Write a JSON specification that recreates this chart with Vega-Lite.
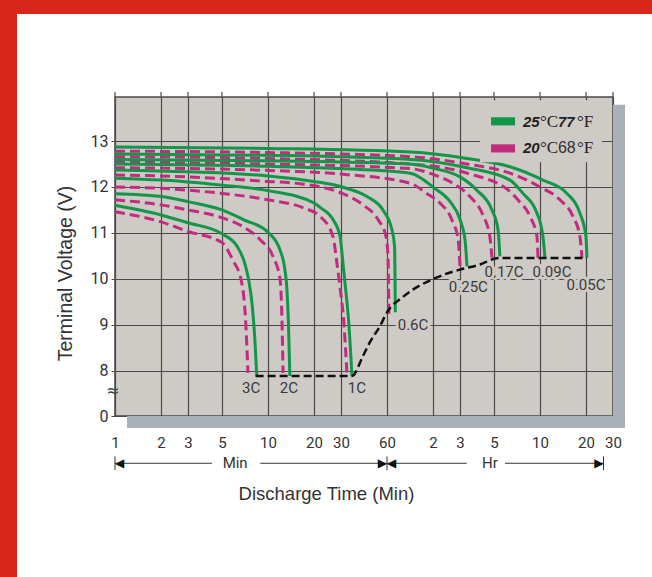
{
  "$schema": "https://vega.github.io/schema/vega-lite/v6.json",
  "background": "#ffffff",
  "padding": 0,
  "columns": 3,
  "spacing": 0,
  "bounds": "flush",
  "config": {"view": {"stroke": null}, "font": "Roboto"},
  "datasets": {
    "curves": [
      {"rate":"3C","temp":"25","t":1,"v":11.6},{"rate":"3C","temp":"25","t":2,"v":11.39},{"rate":"3C","temp":"25","t":3,"v":11.22},{"rate":"3C","temp":"25","t":5,"v":10.98},{"rate":"3C","temp":"25","t":6.3,"v":10.7},{"rate":"3C","temp":"25","t":7.1,"v":10.3},{"rate":"3C","temp":"25","t":7.5,"v":9.95},{"rate":"3C","temp":"25","t":7.9,"v":9.4},{"rate":"3C","temp":"25","t":8.2,"v":8.7},{"rate":"3C","temp":"25","t":8.45,"v":7.88},
      {"rate":"2C","temp":"25","t":1,"v":11.85},{"rate":"2C","temp":"25","t":2,"v":11.79},{"rate":"2C","temp":"25","t":3,"v":11.68},{"rate":"2C","temp":"25","t":5,"v":11.5},{"rate":"2C","temp":"25","t":6.9,"v":11.29},{"rate":"2C","temp":"25","t":10.1,"v":11.0},{"rate":"2C","temp":"25","t":12.0,"v":10.62},{"rate":"2C","temp":"25","t":12.9,"v":10.2},{"rate":"2C","temp":"25","t":13.3,"v":9.77},{"rate":"2C","temp":"25","t":13.6,"v":9.06},{"rate":"2C","temp":"25","t":13.9,"v":7.88},
      {"rate":"1C","temp":"25","t":1,"v":12.19},{"rate":"1C","temp":"25","t":2,"v":12.15},{"rate":"1C","temp":"25","t":3,"v":12.11},{"rate":"1C","temp":"25","t":5,"v":12.04},{"rate":"1C","temp":"25","t":10,"v":11.92},{"rate":"1C","temp":"25","t":20,"v":11.65},{"rate":"1C","temp":"25","t":22,"v":11.55},{"rate":"1C","temp":"25","t":26.6,"v":11.29},{"rate":"1C","temp":"25","t":29.6,"v":10.92},{"rate":"1C","temp":"25","t":30.9,"v":10.35},{"rate":"1C","temp":"25","t":32.2,"v":9.77},{"rate":"1C","temp":"25","t":33.7,"v":9.06},{"rate":"1C","temp":"25","t":35.4,"v":7.88},
      {"rate":"0.6C","temp":"25","t":1,"v":12.37},{"rate":"0.6C","temp":"25","t":3,"v":12.33},{"rate":"0.6C","temp":"25","t":10,"v":12.24},{"rate":"0.6C","temp":"25","t":20,"v":12.12},{"rate":"0.6C","temp":"25","t":30.5,"v":12.0},{"rate":"0.6C","temp":"25","t":44.4,"v":11.79},{"rate":"0.6C","temp":"25","t":56.4,"v":11.5},{"rate":"0.6C","temp":"25","t":64.6,"v":11.07},{"rate":"0.6C","temp":"25","t":67.2,"v":10.7},{"rate":"0.6C","temp":"25","t":67.7,"v":10.0},{"rate":"0.6C","temp":"25","t":68,"v":9.27},
      {"rate":"0.25C","temp":"25","t":1,"v":12.5},{"rate":"0.25C","temp":"25","t":10,"v":12.45},{"rate":"0.25C","temp":"25","t":30,"v":12.4},{"rate":"0.25C","temp":"25","t":85,"v":12.3},{"rate":"0.25C","temp":"25","t":123,"v":11.97},{"rate":"0.25C","temp":"25","t":155,"v":11.68},{"rate":"0.25C","temp":"25","t":180,"v":11.29},{"rate":"0.25C","temp":"25","t":194,"v":10.85},{"rate":"0.25C","temp":"25","t":200,"v":10.27},
      {"rate":"0.17C","temp":"25","t":1,"v":12.6},{"rate":"0.17C","temp":"25","t":10,"v":12.57},{"rate":"0.17C","temp":"25","t":85,"v":12.5},{"rate":"0.17C","temp":"25","t":123,"v":12.4},{"rate":"0.17C","temp":"25","t":180,"v":12.22},{"rate":"0.17C","temp":"25","t":232,"v":11.93},{"rate":"0.17C","temp":"25","t":291,"v":11.5},{"rate":"0.17C","temp":"25","t":319,"v":11.07},{"rate":"0.17C","temp":"25","t":328,"v":10.49},
      {"rate":"0.09C","temp":"25","t":1,"v":12.72},{"rate":"0.09C","temp":"25","t":10,"v":12.69},{"rate":"0.09C","temp":"25","t":85,"v":12.6},{"rate":"0.09C","temp":"25","t":200,"v":12.42},{"rate":"0.09C","temp":"25","t":382,"v":12.15},{"rate":"0.09C","temp":"25","t":464,"v":11.86},{"rate":"0.09C","temp":"25","t":573,"v":11.43},{"rate":"0.09C","temp":"25","t":627,"v":10.92},{"rate":"0.09C","temp":"25","t":646,"v":10.46},
      {"rate":"0.05C","temp":"25","t":1,"v":12.87},{"rate":"0.05C","temp":"25","t":10,"v":12.84},{"rate":"0.05C","temp":"25","t":85,"v":12.76},{"rate":"0.05C","temp":"25","t":200,"v":12.62},{"rate":"0.05C","temp":"25","t":382,"v":12.44},{"rate":"0.05C","temp":"25","t":627,"v":12.15},{"rate":"0.05C","temp":"25","t":900,"v":11.86},{"rate":"0.05C","temp":"25","t":1094,"v":11.43},{"rate":"0.05C","temp":"25","t":1198,"v":10.92},{"rate":"0.05C","temp":"25","t":1216,"v":10.46},
      {"rate":"3C","temp":"20","t":1,"v":11.46},{"rate":"3C","temp":"20","t":2,"v":11.24},{"rate":"3C","temp":"20","t":3,"v":11.03},{"rate":"3C","temp":"20","t":5,"v":10.79},{"rate":"3C","temp":"20","t":5.9,"v":10.4},{"rate":"3C","temp":"20","t":6.7,"v":9.95},{"rate":"3C","temp":"20","t":7.15,"v":9.06},{"rate":"3C","temp":"20","t":7.4,"v":7.95},
      {"rate":"2C","temp":"20","t":1,"v":11.72},{"rate":"2C","temp":"20","t":2,"v":11.61},{"rate":"2C","temp":"20","t":3,"v":11.5},{"rate":"2C","temp":"20","t":5,"v":11.33},{"rate":"2C","temp":"20","t":6.9,"v":11.13},{"rate":"2C","temp":"20","t":8.9,"v":10.85},{"rate":"2C","temp":"20","t":10.8,"v":10.48},{"rate":"2C","temp":"20","t":12.0,"v":9.99},{"rate":"2C","temp":"20","t":12.35,"v":9.06},{"rate":"2C","temp":"20","t":12.55,"v":7.95},
      {"rate":"1C","temp":"20","t":1,"v":12.0},{"rate":"1C","temp":"20","t":2,"v":11.97},{"rate":"1C","temp":"20","t":3,"v":11.93},{"rate":"1C","temp":"20","t":5,"v":11.86},{"rate":"1C","temp":"20","t":10,"v":11.72},{"rate":"1C","temp":"20","t":16.9,"v":11.55},{"rate":"1C","temp":"20","t":21.9,"v":11.36},{"rate":"1C","temp":"20","t":26.6,"v":10.92},{"rate":"1C","temp":"20","t":28.2,"v":10.35},{"rate":"1C","temp":"20","t":29.6,"v":9.8},{"rate":"1C","temp":"20","t":31.3,"v":9.06},{"rate":"1C","temp":"20","t":32.8,"v":7.95},
      {"rate":"0.6C","temp":"20","t":1,"v":12.26},{"rate":"0.6C","temp":"20","t":3,"v":12.22},{"rate":"0.6C","temp":"20","t":10,"v":12.12},{"rate":"0.6C","temp":"20","t":16.2,"v":12.07},{"rate":"0.6C","temp":"20","t":30.5,"v":11.86},{"rate":"0.6C","temp":"20","t":41.8,"v":11.61},{"rate":"0.6C","temp":"20","t":52.4,"v":11.29},{"rate":"0.6C","temp":"20","t":59.1,"v":10.92},{"rate":"0.6C","temp":"20","t":60.9,"v":10.49},{"rate":"0.6C","temp":"20","t":61.4,"v":9.77},{"rate":"0.6C","temp":"20","t":61.8,"v":9.22},
      {"rate":"0.25C","temp":"20","t":1,"v":12.42},{"rate":"0.25C","temp":"20","t":10,"v":12.36},{"rate":"0.25C","temp":"20","t":30,"v":12.28},{"rate":"0.25C","temp":"20","t":85,"v":12.08},{"rate":"0.25C","temp":"20","t":109,"v":11.86},{"rate":"0.25C","temp":"20","t":133,"v":11.65},{"rate":"0.25C","temp":"20","t":159,"v":11.29},{"rate":"0.25C","temp":"20","t":175,"v":10.85},{"rate":"0.25C","temp":"20","t":180,"v":10.27},
      {"rate":"0.17C","temp":"20","t":1,"v":12.54},{"rate":"0.17C","temp":"20","t":10,"v":12.5},{"rate":"0.17C","temp":"20","t":85,"v":12.4},{"rate":"0.17C","temp":"20","t":123,"v":12.26},{"rate":"0.17C","temp":"20","t":162,"v":12.08},{"rate":"0.17C","temp":"20","t":209,"v":11.79},{"rate":"0.17C","temp":"20","t":254,"v":11.39},{"rate":"0.17C","temp":"20","t":282,"v":10.92},{"rate":"0.17C","temp":"20","t":291,"v":10.46},
      {"rate":"0.09C","temp":"20","t":1,"v":12.66},{"rate":"0.09C","temp":"20","t":10,"v":12.62},{"rate":"0.09C","temp":"20","t":85,"v":12.5},{"rate":"0.09C","temp":"20","t":200,"v":12.3},{"rate":"0.09C","temp":"20","t":382,"v":11.9},{"rate":"0.09C","temp":"20","t":430,"v":11.72},{"rate":"0.09C","temp":"20","t":516,"v":11.36},{"rate":"0.09C","temp":"20","t":573,"v":10.92},{"rate":"0.09C","temp":"20","t":582,"v":10.46},
      {"rate":"0.05C","temp":"20","t":1,"v":12.78},{"rate":"0.05C","temp":"20","t":10,"v":12.75},{"rate":"0.05C","temp":"20","t":85,"v":12.66},{"rate":"0.05C","temp":"20","t":200,"v":12.5},{"rate":"0.05C","temp":"20","t":382,"v":12.3},{"rate":"0.05C","temp":"20","t":600,"v":12.0},{"rate":"0.05C","temp":"20","t":810,"v":11.72},{"rate":"0.05C","temp":"20","t":985,"v":11.36},{"rate":"0.05C","temp":"20","t":1094,"v":10.92},{"rate":"0.05C","temp":"20","t":1128,"v":10.46}
    ],
    "cutoff": [
      {"t":8.3,"v":7.88},{"t":35.4,"v":7.88},{"t":41.8,"v":8.32},{"t":46.4,"v":8.62},{"t":54,"v":8.97},{"t":60,"v":9.27},{"t":76,"v":9.6},{"t":127,"v":10.03},{"t":180,"v":10.2},{"t":243,"v":10.31},{"t":320,"v":10.45},{"t":1216,"v":10.45}
    ],
    "labels": [
      {"label":"3C","t":7.75,"v":7.62},{"label":"2C","t":13.7,"v":7.62},{"label":"1C","t":38.1,"v":7.62},{"label":"0.6C","t":88.7,"v":9.0},{"label":"0.25C","t":204,"v":9.81},{"label":"0.17C","t":349,"v":10.15},{"label":"0.09C","t":718,"v":10.15},{"label":"0.05C","t":1198,"v":9.86}
    ],
    "grid_t": [{"t":1},{"t":2},{"t":3},{"t":5},{"t":10},{"t":20},{"t":30},{"t":60},{"t":120},{"t":180},{"t":300},{"t":600},{"t":1200},{"t":1800}],
    "legend": [{"temp":"25","v":13.43},{"temp":"20","v":12.84}],
    "legend_text": [{"s":"25","v":13.31},{"s":"20","v":12.73}],
    "segments": [{"t1":1,"t2":4.3},{"t1":8.9,"t2":60},{"t1":60,"t2":199},{"t1":354,"t2":1560}],
    "ends": [{"t":1},{"t":60},{"t":1560}],
    "left_heads": [{"t":1},{"t":60}],
    "right_heads": [{"t":60},{"t":1560}],
    "units": [{"s":"Min","t":6.1},{"s":"Hr","t":282}]
  },
  "concat": [
    {"width": 17, "height": 14, "view": {"fill": "#d8261c", "stroke": null}, "data": {"values": []}, "mark": "point", "encoding": {}},
    {"width": 98, "height": 14, "view": {"fill": "#d8261c", "stroke": null}, "data": {"values": []}, "mark": "point", "encoding": {}},
    {"width": 537, "height": 14, "view": {"fill": "#d8261c", "stroke": null}, "data": {"values": []}, "mark": "point", "encoding": {}},
    {"width": 17, "height": 83, "view": {"fill": "#d8261c", "stroke": null}, "data": {"values": []}, "mark": "point", "encoding": {}},
    {"width": 1, "height": 1, "data": {"values": []}, "mark": "point", "encoding": {}},
    {"width": 1, "height": 1, "data": {"values": []}, "mark": "point", "encoding": {}},
    {"width": 17, "height": 480, "view": {"fill": "#d8261c", "stroke": null}, "data": {"values": []}, "mark": "point", "encoding": {}},
    {"width": 1, "height": 1, "data": {"values": []}, "mark": "point", "encoding": {}},
    {
      "width": 498,
      "height": 319,
      "view": {"fill": "#cecac5", "stroke": "#4a4a4a", "strokeWidth": 1.5},
      "layer": [
        {
          "data": {"name": "curves"},
          "transform": [{"filter": "datum.temp == '20'"}],
          "mark": {"type": "line", "color": "#c22c7e", "strokeWidth": 3, "strokeDash": [10, 5], "interpolate": "monotone"},
          "encoding": {
            "x": {
              "field": "t", "type": "quantitative",
              "scale": {"type": "log", "domain": [1, 1800], "nice": false},
              "axis": {
                "values": [1, 2, 3, 5, 10, 20, 30, 60, 120, 180, 300, 600, 1200, 1800],
                "labelExpr": "datum.value > 60 ? format(datum.value / 60, 'd') : format(datum.value, 'd')",
                "grid": true, "gridColor": "#4a4a4a", "gridWidth": 1.2,
                "domain": false, "ticks": false, "tickSize": 0,
                "labelPadding": 19, "labelFont": "Roboto", "labelFontSize": 15, "labelColor": "#333333",
                "labelFlush": false, "labelOverlap": false, "labelBound": false,
                "title": "Discharge Time (Min)", "titleFont": "Liberation Sans", "titleFontSize": 18.5, "titleFontWeight": "normal", "titleColor": "#333333",
                "titleX": 211, "titleY": 77, "titleAlign": "center", "titleBaseline": "middle"
              }
            },
            "y": {
              "field": "v", "type": "quantitative",
              "scale": {"domain": [7.01, 13.96], "zero": false, "nice": false},
              "axis": {
                "values": [7.01, 8, 9, 10, 11, 12, 13],
                "labelExpr": "datum.value < 7.5 ? '0' : format(datum.value, 'd')",
                "grid": true, "gridColor": "#4a4a4a", "gridWidth": 1.2,
                "domain": false, "ticks": true, "tickSize": 4, "tickColor": "#4a4a4a",
                "labelPadding": 3, "labelFont": "Roboto", "labelFontSize": 16, "labelColor": "#333333",
                "labelFlush": false, "labelOverlap": false, "labelBound": false,
                "title": "Terminal Voltage (V)", "titleFont": "Liberation Sans", "titleFontSize": 19.5, "titleFontWeight": "normal", "titleColor": "#333333",
                "titleX": -50, "titleY": 176, "titleAngle": -90, "titleAlign": "center", "titleBaseline": "middle"
              }
            },
            "detail": {"field": "rate"}
          }
        },
        {
          "data": {"name": "curves"},
          "transform": [{"filter": "datum.temp == '25'"}],
          "mark": {"type": "line", "color": "#13954a", "strokeWidth": 3, "interpolate": "monotone"},
          "encoding": {
            "x": {"field": "t", "type": "quantitative", "scale": {"type": "log", "domain": [1, 1800], "nice": false}},
            "y": {"field": "v", "type": "quantitative", "scale": {"domain": [7.01, 13.96], "zero": false, "nice": false}},
            "detail": {"field": "rate"}
          }
        },
        {
          "data": {"name": "cutoff"},
          "mark": {"type": "line", "color": "#111111", "strokeWidth": 2.5, "strokeDash": [8, 4], "interpolate": "monotone"},
          "encoding": {
            "x": {"field": "t", "type": "quantitative", "scale": {"type": "log", "domain": [1, 1800], "nice": false}},
            "y": {"field": "v", "type": "quantitative", "scale": {"domain": [7.01, 13.96], "zero": false, "nice": false}}
          }
        },
        {
          "data": {"values": [{}]},
          "mark": {"type": "rect", "color": "#a8b0b8", "clip": false},
          "encoding": {
            "x": {"datum": 1800, "type": "quantitative", "scale": {"type": "log", "domain": [1, 1800], "nice": false}},
            "x2": {"datum": 2157},
            "y": {"datum": 6.75, "type": "quantitative", "scale": {"domain": [7.01, 13.96], "zero": false, "nice": false}},
            "y2": {"datum": 13.79}
          }
        },
        {
          "data": {"values": [{}]},
          "mark": {"type": "rect", "color": "#a8b0b8", "clip": false},
          "encoding": {
            "x": {"datum": 1.198, "type": "quantitative", "scale": {"type": "log", "domain": [1, 1800], "nice": false}},
            "x2": {"datum": 2157},
            "y": {"datum": 6.75, "type": "quantitative", "scale": {"domain": [7.01, 13.96], "zero": false, "nice": false}},
            "y2": {"datum": 7.01}
          }
        },
        {
          "data": {"name": "grid_t"},
          "mark": {"type": "rule", "color": "#4a4a4a", "strokeWidth": 1.2, "clip": false},
          "encoding": {
            "x": {"field": "t", "type": "quantitative", "scale": {"type": "log", "domain": [1, 1800], "nice": false}},
            "y": {"datum": 13.96, "type": "quantitative", "scale": {"domain": [7.01, 13.96], "zero": false, "nice": false}},
            "y2": {"datum": 14.07}
          }
        },
        {
          "data": {"values": [{}]},
          "mark": {"type": "rect", "color": "#cecac5"},
          "encoding": {
            "x": {"datum": 243, "type": "quantitative", "scale": {"type": "log", "domain": [1, 1800], "nice": false}},
            "x2": {"datum": 1524},
            "y": {"datum": 12.54, "type": "quantitative", "scale": {"domain": [7.01, 13.96], "zero": false, "nice": false}},
            "y2": {"datum": 13.89}
          }
        },
        {
          "data": {"name": "labels"},
          "mark": {"type": "text", "font": "Roboto", "fontSize": 15, "fill": "#cecac5", "stroke": "#cecac5", "strokeWidth": 6, "strokeJoin": "round", "align": "center", "baseline": "middle"},
          "encoding": {
            "x": {"field": "t", "type": "quantitative", "scale": {"type": "log", "domain": [1, 1800], "nice": false}},
            "y": {"field": "v", "type": "quantitative", "scale": {"domain": [7.01, 13.96], "zero": false, "nice": false}},
            "text": {"field": "label"}
          }
        },
        {
          "data": {"name": "labels"},
          "mark": {"type": "text", "font": "Roboto", "fontSize": 15, "color": "#3a3a3a", "align": "center", "baseline": "middle"},
          "encoding": {
            "x": {"field": "t", "type": "quantitative", "scale": {"type": "log", "domain": [1, 1800], "nice": false}},
            "y": {"field": "v", "type": "quantitative", "scale": {"domain": [7.01, 13.96], "zero": false, "nice": false}},
            "text": {"field": "label"}
          }
        },
        {
          "data": {"values": [{}]},
          "mark": {"type": "text", "text": "≈", "font": "DejaVu Sans", "fontSize": 16, "color": "#444444", "align": "center", "baseline": "middle", "dx": -2, "clip": false},
          "encoding": {
            "x": {"datum": 1, "type": "quantitative", "scale": {"type": "log", "domain": [1, 1800], "nice": false}},
            "y": {"datum": 7.55, "type": "quantitative", "scale": {"domain": [7.01, 13.96], "zero": false, "nice": false}}
          }
        },
        {
          "data": {"name": "legend"},
          "mark": {"type": "point", "shape": "M-1,-0.34H1V0.34H-1Z", "size": 576, "filled": true, "opacity": 1, "strokeWidth": 0},
          "encoding": {
            "x": {"datum": 344, "type": "quantitative", "scale": {"type": "log", "domain": [1, 1800], "nice": false}},
            "y": {"field": "v", "type": "quantitative", "scale": {"domain": [7.01, 13.96], "zero": false, "nice": false}},
            "color": {"field": "temp", "type": "nominal", "scale": {"domain": ["25", "20"], "range": ["#13954a", "#c22c7e"]}, "legend": null}
          }
        },
        {
          "data": {"name": "legend_text"},
          "mark": {"type": "text", "font": "Liberation Sans", "fontStyle": "italic", "fontWeight": "bold", "fontSize": 15, "color": "#222222", "align": "left", "baseline": "alphabetic"},
          "encoding": {
            "x": {"datum": 464, "type": "quantitative", "scale": {"type": "log", "domain": [1, 1800], "nice": false}},
            "y": {"field": "v", "type": "quantitative", "scale": {"domain": [7.01, 13.96], "zero": false, "nice": false}},
            "text": {"field": "s"}
          }
        },
        {
          "data": {"name": "legend_text"},
          "mark": {"type": "text", "text": "°C", "font": "Liberation Serif", "fontSize": 17, "color": "#222222", "align": "left", "baseline": "alphabetic", "dx": 17},
          "encoding": {
            "x": {"datum": 464, "type": "quantitative", "scale": {"type": "log", "domain": [1, 1800], "nice": false}},
            "y": {"field": "v", "type": "quantitative", "scale": {"domain": [7.01, 13.96], "zero": false, "nice": false}}
          }
        },
        {
          "data": {"values": [{}]},
          "mark": {"type": "text", "text": "77", "font": "Liberation Sans", "fontStyle": "italic", "fontWeight": "bold", "fontSize": 15, "color": "#222222", "align": "left", "baseline": "alphabetic", "dx": 35},
          "encoding": {
            "x": {"datum": 464, "type": "quantitative", "scale": {"type": "log", "domain": [1, 1800], "nice": false}},
            "y": {"datum": 13.31, "type": "quantitative", "scale": {"domain": [7.01, 13.96], "zero": false, "nice": false}}
          }
        },
        {
          "data": {"values": [{}]},
          "mark": {"type": "text", "text": "68", "font": "Liberation Sans", "fontSize": 16, "color": "#333333", "align": "left", "baseline": "alphabetic", "dx": 35},
          "encoding": {
            "x": {"datum": 464, "type": "quantitative", "scale": {"type": "log", "domain": [1, 1800], "nice": false}},
            "y": {"datum": 12.73, "type": "quantitative", "scale": {"domain": [7.01, 13.96], "zero": false, "nice": false}}
          }
        },
        {
          "data": {"name": "legend_text"},
          "mark": {"type": "text", "text": "°F", "font": "Liberation Serif", "fontSize": 17, "color": "#222222", "align": "left", "baseline": "alphabetic", "dx": 54},
          "encoding": {
            "x": {"datum": 464, "type": "quantitative", "scale": {"type": "log", "domain": [1, 1800], "nice": false}},
            "y": {"field": "v", "type": "quantitative", "scale": {"domain": [7.01, 13.96], "zero": false, "nice": false}}
          }
        },
        {
          "data": {"name": "segments"},
          "mark": {"type": "rule", "color": "#333333", "strokeWidth": 1, "clip": false},
          "encoding": {
            "x": {"field": "t1", "type": "quantitative", "scale": {"type": "log", "domain": [1, 1800], "nice": false}},
            "x2": {"field": "t2"},
            "y": {"datum": 5.98, "type": "quantitative", "scale": {"domain": [7.01, 13.96], "zero": false, "nice": false}}
          }
        },
        {
          "data": {"name": "ends"},
          "mark": {"type": "rule", "color": "#333333", "strokeWidth": 1, "clip": false},
          "encoding": {
            "x": {"field": "t", "type": "quantitative", "scale": {"type": "log", "domain": [1, 1800], "nice": false}},
            "y": {"datum": 5.83, "type": "quantitative", "scale": {"domain": [7.01, 13.96], "zero": false, "nice": false}},
            "y2": {"datum": 6.13}
          }
        },
        {
          "data": {"name": "left_heads"},
          "mark": {"type": "text", "text": "◀", "font": "DejaVu Sans", "fontSize": 12, "color": "#111111", "align": "left", "baseline": "middle", "clip": false},
          "encoding": {
            "x": {"field": "t", "type": "quantitative", "scale": {"type": "log", "domain": [1, 1800], "nice": false}},
            "y": {"datum": 5.98, "type": "quantitative", "scale": {"domain": [7.01, 13.96], "zero": false, "nice": false}}
          }
        },
        {
          "data": {"name": "right_heads"},
          "mark": {"type": "text", "text": "▶", "font": "DejaVu Sans", "fontSize": 12, "color": "#111111", "align": "right", "baseline": "middle", "clip": false},
          "encoding": {
            "x": {"field": "t", "type": "quantitative", "scale": {"type": "log", "domain": [1, 1800], "nice": false}},
            "y": {"datum": 5.98, "type": "quantitative", "scale": {"domain": [7.01, 13.96], "zero": false, "nice": false}}
          }
        },
        {
          "data": {"name": "units"},
          "mark": {"type": "text", "font": "Roboto", "fontSize": 15, "color": "#333333", "align": "center", "baseline": "middle", "clip": false},
          "encoding": {
            "x": {"field": "t", "type": "quantitative", "scale": {"type": "log", "domain": [1, 1800], "nice": false}},
            "y": {"datum": 5.98, "type": "quantitative", "scale": {"domain": [7.01, 13.96], "zero": false, "nice": false}},
            "text": {"field": "s"}
          }
        }
      ]
    }
  ]
}
